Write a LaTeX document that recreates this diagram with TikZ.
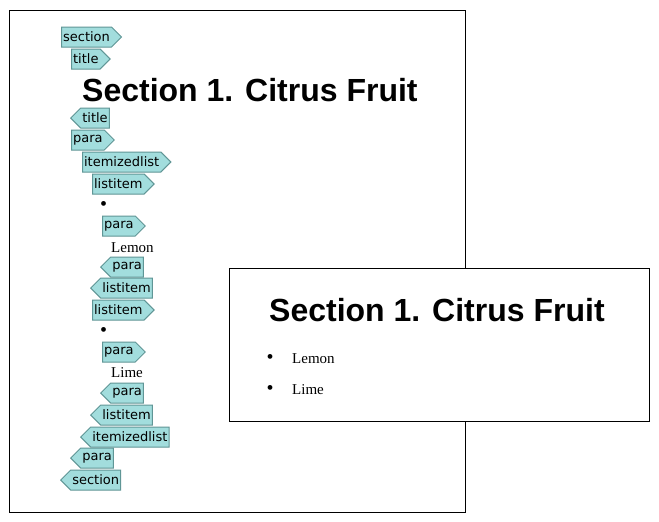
\documentclass[tikz,border=0pt]{standalone}
\usepackage{fontspec}
\setmainfont{Liberation Serif}
\newfontfamily\tagfontfam{DejaVu Sans}
\newfontfamily\headfontfam{Liberation Sans}
\usetikzlibrary{shapes.symbols}
\definecolor{tagfill}{RGB}{162,221,221}
\definecolor{tagborder}{RGB}{96,150,150}
\tikzset{
  tag/.style={signal, signal pointer angle=90, draw=tagborder, fill=tagfill,
    line width=1pt, minimum height=20pt, inner xsep=1.6pt, inner ysep=0pt,
    font=\tagfontfam\fontsize{13}{15}\selectfont, text=black},
  otag/.style={tag, signal to=east, anchor=west},
  ctag/.style={tag, signal to=west, anchor=west},
  head/.style={inner sep=0pt, anchor=base west, font=\headfontfam\bfseries\fontsize{32}{36}\selectfont},
  body/.style={inner sep=0pt, anchor=base west, font=\fontsize{15}{18}\selectfont},
  bul/.style={inner sep=0pt, anchor=center, font=\fontsize{20}{22}\selectfont},
  pagebox/.style={draw=black, line width=0.8pt, fill=white}
}
\begin{document}
\begin{tikzpicture}[x=1pt,y=-1pt]
\useasboundingbox (0,0) rectangle (659,522);
% source page
\node[pagebox, anchor=north west, minimum width=456pt, minimum height=502pt, inner sep=0pt] (src) at (9,10) {};
\node[otag] (t1) at (61,37) {section};
\node[otag] (t2) at (71,59) {title};
\node[head] (h1) at (82,101) {Section 1. Citrus Fruit};
\node[ctag] (t3) at (70,118) {title};
\node[otag] (t4) at (71,140) {para};
\node[otag] (t5) at (82,162) {itemizedlist};
\node[otag] (t6) at (92,184) {listitem};
\node[bul] (b1) at (103.5,206) {•};
\node[otag] (t7) at (102,226) {para};
\node[body] (l1) at (111,252) {Lemon};
\node[ctag] (t8) at (100,267) {para};
\node[ctag] (t9) at (90,288) {listitem};
\node[otag] (t10) at (92,310) {listitem};
\node[bul] (b2) at (103.5,332) {•};
\node[otag] (t11) at (102,352) {para};
\node[body] (l2) at (111,377) {Lime};
\node[ctag] (t12) at (100,393) {para};
\node[ctag] (t13) at (90,415) {listitem};
\node[ctag] (t14) at (80,437) {itemizedlist};
\node[ctag] (t15) at (70,458) {para};
\node[ctag] (t16) at (60,480) {section};
% rendered page
\node[pagebox, anchor=north west, minimum width=420pt, minimum height=153pt, inner sep=0pt] (out) at (229,268) {};
\node[head] (h2) at (269,321) {Section 1. Citrus Fruit};
\node[bul] (rb1) at (270,359) {•};
\node[body] (r1) at (292,363) {Lemon};
\node[bul] (rb2) at (270,390) {•};
\node[body] (r2) at (292,394) {Lime};
\end{tikzpicture}
\end{document}
